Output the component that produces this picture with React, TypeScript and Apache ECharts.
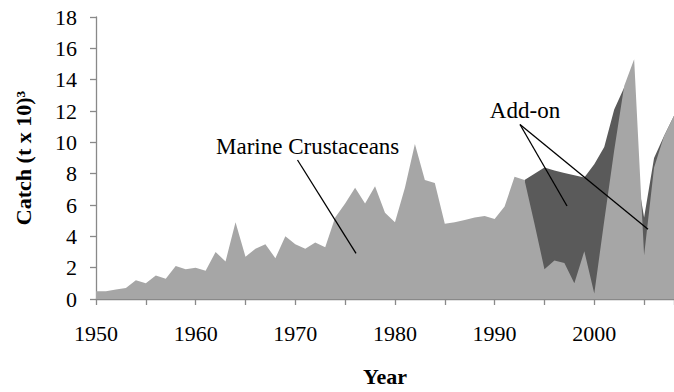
import React, { useEffect, useRef } from "react";
import * as echarts from "echarts";

const years: number[] = [
  1950, 1951, 1952, 1953, 1954, 1955, 1956, 1957, 1958, 1959,
  1960, 1961, 1962, 1963, 1964, 1965, 1966, 1967, 1968, 1969,
  1970, 1971, 1972, 1973, 1974, 1975, 1976, 1977, 1978, 1979,
  1980, 1981, 1982, 1983, 1984, 1985, 1986, 1987, 1988, 1989,
  1990, 1991, 1992, 1993, 1994, 1995, 1996, 1997, 1998, 1999,
  2000, 2001, 2002, 2003, 2004, 2005, 2006, 2007, 2008,
];

const marineCrustaceans: number[] = [
  0.5, 0.5, 0.6, 0.7, 1.2, 1.0, 1.5, 1.3, 2.1, 1.9,
  2.0, 1.8, 3.0, 2.4, 4.9, 2.7, 3.2, 3.5, 2.6, 4.0,
  3.5, 3.2, 3.6, 3.3, 5.2, 6.1, 7.1, 6.1, 7.2, 5.5,
  4.9, 7.1, 9.9, 7.6, 7.4, 4.8, 4.9, 5.05, 5.2, 5.3,
  5.1, 5.9, 7.8, 7.6, 4.8, 1.9, 2.45, 2.3, 1.0, 3.05,
  0.35, 5.0, 9.5, 13.6, 15.3, 2.8, 8.4, 10.4, 11.7,
];

// total incl. add-on (drawn behind); null where no add-on
const withAddOn: (number | null)[] = [
  null, null, null, null, null, null, null, null, null, null,
  null, null, null, null, null, null, null, null, null, null,
  null, null, null, null, null, null, null, null, null, null,
  null, null, null, null, null, null, null, null, null, null,
  null, null, null, 7.6, 8.0, 8.4, 8.2, 8.05, 7.9, 7.75,
  8.6, 9.7, 12.1, 13.5, 9.0, 5.2, 9.0, 10.4, 11.7,
];

const yTicks = { min: 0, max: 18, interval: 2 };
const xTicks = { min: 1950, max: 2008, interval: 5 };

const FONT = "'Liberation Serif', 'Times New Roman', serif";
const AXIS = "#898989";

export default function App() {
  const ref = useRef<HTMLDivElement>(null);

  useEffect(() => {
    document.body.style.margin = "0";
    if (!ref.current) return;
    const chart = echarts.init(ref.current, undefined, { renderer: "svg" });
    const light = years.map((y, i) => [y, marineCrustaceans[i]]);
    const dark = years.map((y, i) => [y, withAddOn[i]]);
    chart.setOption({
      animation: false,
      grid: { left: 96, right: 1, top: 17, bottom: 89 },
      xAxis: {
        type: "value",
        min: xTicks.min,
        max: xTicks.max,
        interval: xTicks.interval,
        splitLine: { show: false },
        axisLine: { show: true, lineStyle: { color: AXIS, width: 1.3 } },
        axisTick: { show: true, length: 6, lineStyle: { color: AXIS, width: 1.3 } },
        axisLabel: {
          margin: 23,
          color: "#000",
          fontFamily: FONT,
          fontSize: 22,
          formatter: (v: number) => (v % 10 === 0 ? String(v) : ""),
        },
        name: "Year",
        nameLocation: "middle",
        nameGap: 66,
        nameTextStyle: { color: "#000", fontFamily: FONT, fontSize: 22, fontWeight: "bold" },
      },
      yAxis: {
        type: "value",
        min: yTicks.min,
        max: yTicks.max,
        interval: yTicks.interval,
        splitLine: { show: false },
        axisLine: { show: true, lineStyle: { color: AXIS, width: 1.3 } },
        axisTick: { show: true, length: 6, lineStyle: { color: AXIS, width: 1.3 } },
        axisLabel: { margin: 19, color: "#000", fontFamily: FONT, fontSize: 22 },
        name: "Catch (t x 10)³",
        nameLocation: "middle",
        nameRotate: 90,
        nameGap: 62,
        nameTextStyle: { color: "#000", fontFamily: FONT, fontSize: 22, fontWeight: "bold" },
      },
      series: [
        {
          name: "Add-on",
          type: "line",
          data: dark,
          symbol: "none",
          lineStyle: { width: 0 },
          areaStyle: { color: "#5a5a5a", opacity: 1 },
          z: 1,
        },
        {
          name: "Marine Crustaceans",
          type: "line",
          data: light,
          symbol: "none",
          lineStyle: { width: 0 },
          areaStyle: { color: "#a6a6a6", opacity: 1 },
          z: 2,
        },
      ],
      graphic: [
        {
          type: "text",
          x: 216,
          y: 146,
          z: 100,
          style: {
            text: "Marine Crustaceans",
            fill: "#000",
            font: `23px ${FONT}`,
            textAlign: "left",
            textVerticalAlign: "middle",
          },
        },
        {
          type: "line",
          z: 100,
          shape: { x1: 297.5, y1: 160, x2: 356, y2: 253.3 },
          style: { stroke: "#000", lineWidth: 1.3 },
        },
        {
          type: "text",
          x: 525,
          y: 110.5,
          z: 100,
          style: {
            text: "Add-on",
            fill: "#000",
            font: `23px ${FONT}`,
            textAlign: "center",
            textVerticalAlign: "middle",
          },
        },
        {
          type: "line",
          z: 100,
          shape: { x1: 520, y1: 124.5, x2: 567, y2: 206 },
          style: { stroke: "#000", lineWidth: 1.3 },
        },
        {
          type: "line",
          z: 100,
          shape: { x1: 520, y1: 124.5, x2: 648, y2: 229.3 },
          style: { stroke: "#000", lineWidth: 1.3 },
        },
      ],
    });
    return () => chart.dispose();
  }, []);

  return (
    <div style={{ width: 674, height: 392, overflow: "hidden", position: "relative" }}>
      <div ref={ref} style={{ width: 677, height: 392 }} />
    </div>
  );
}
